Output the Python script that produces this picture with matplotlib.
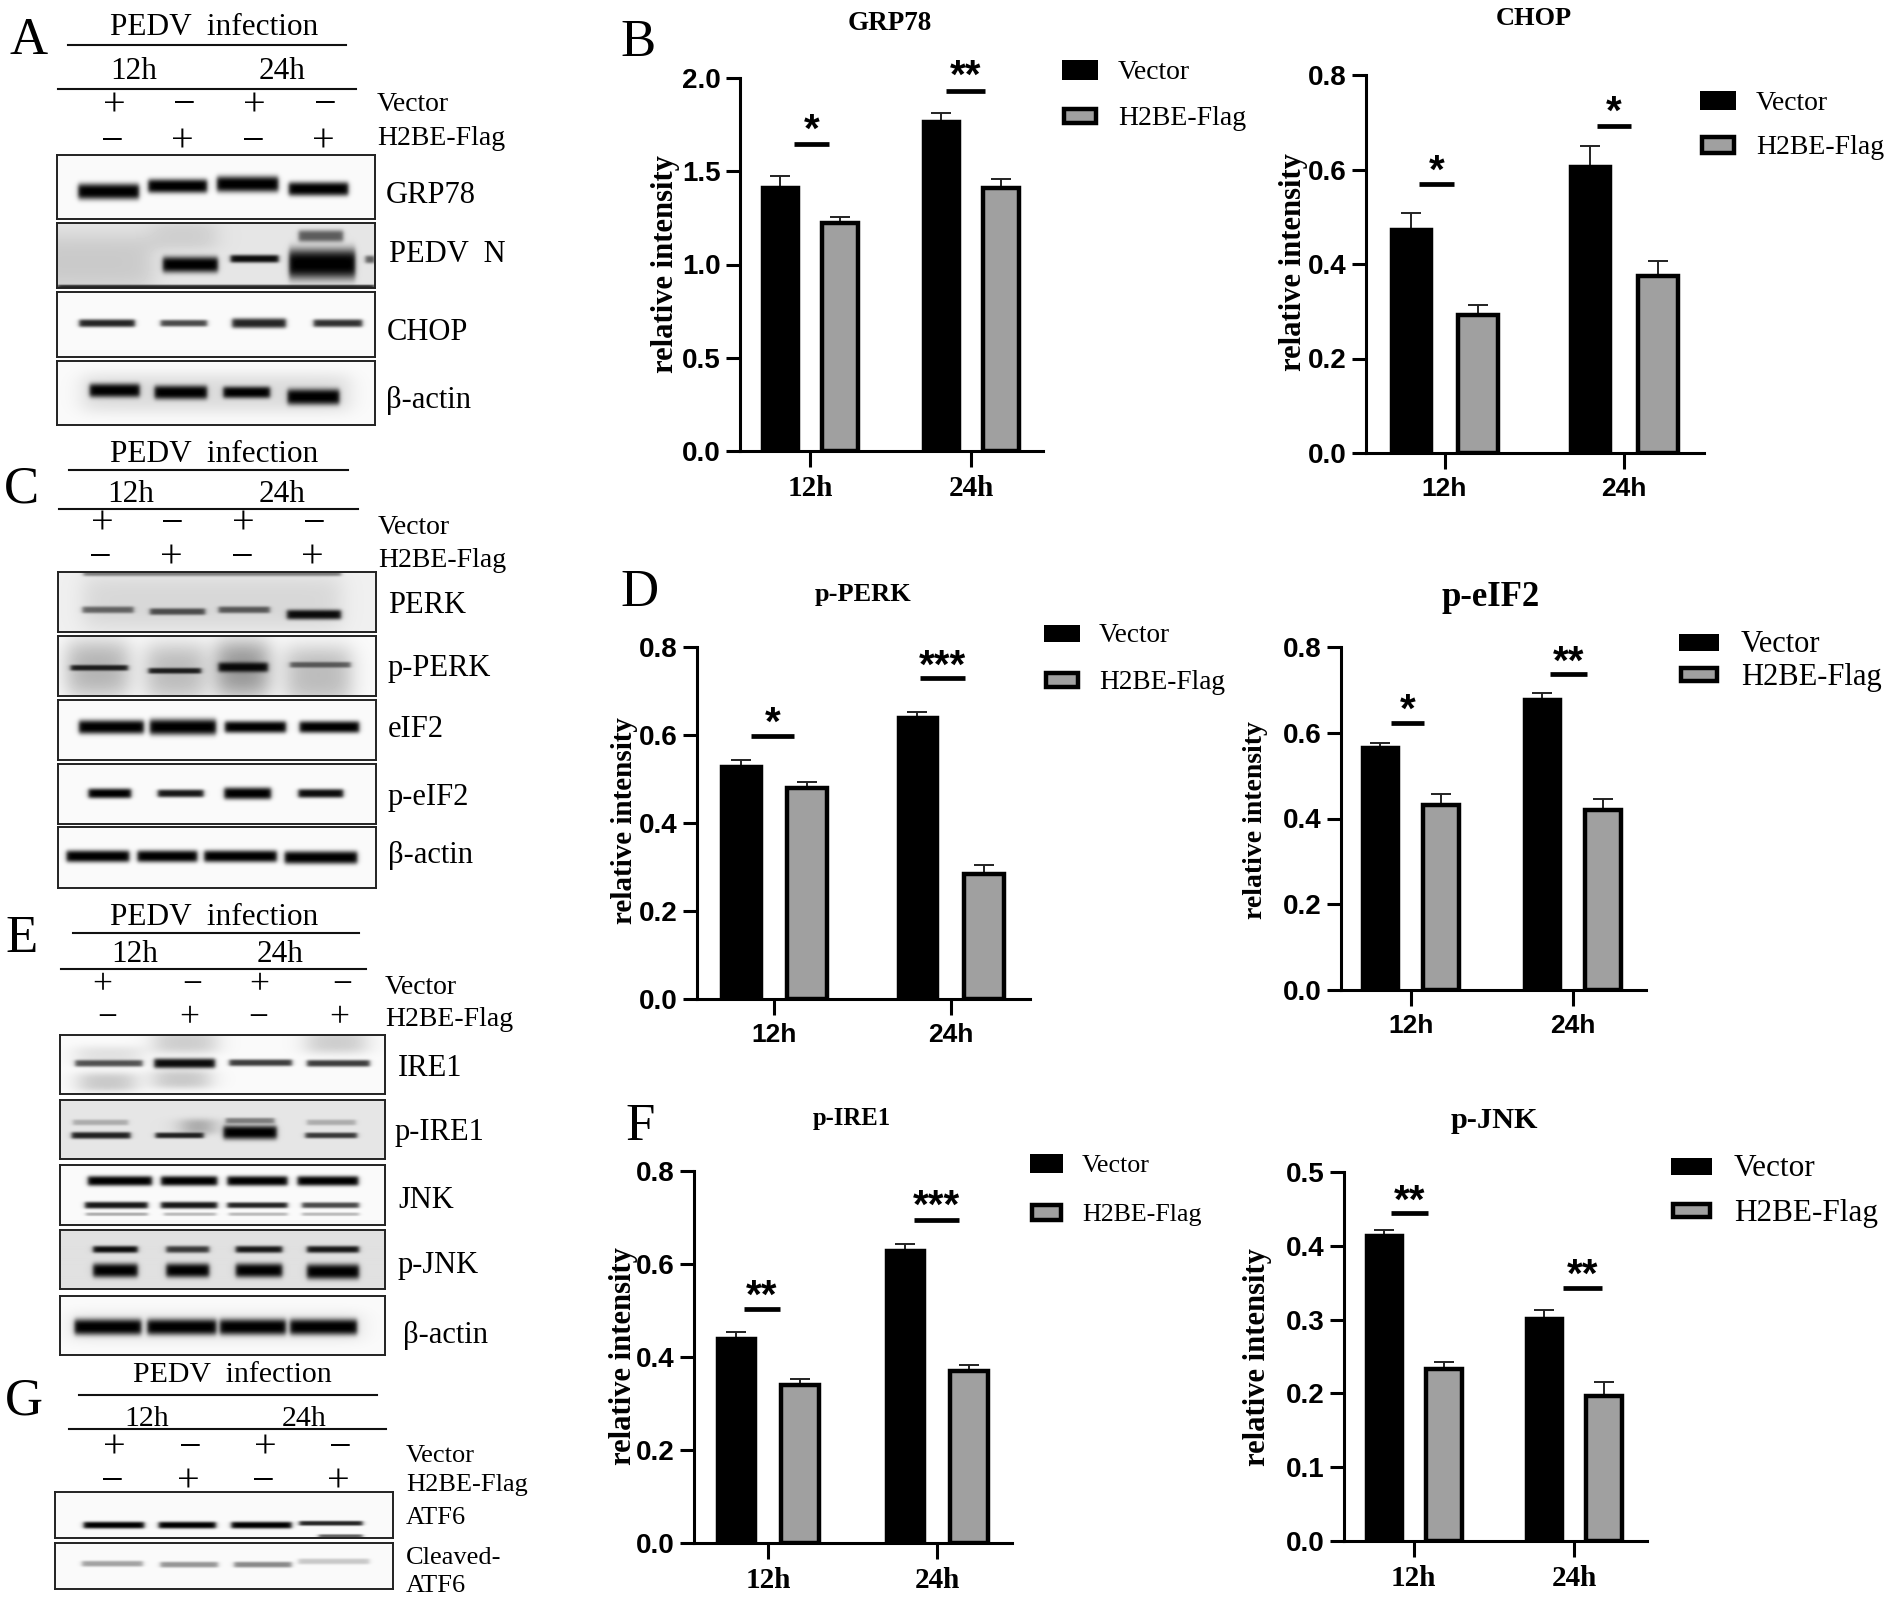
import numpy as np
import matplotlib
matplotlib.use("Agg")
import matplotlib.pyplot as plt
from matplotlib.patches import Rectangle

W, H = 1889, 1598
plt.rcParams['font.family'] = ['Liberation Serif', 'DejaVu Sans']

# bar chart data
hours = ["12h", "24h"]
series_names = ["Vector", "H2BE-Flag"]

grp78_vec = [1.418, 1.768]
grp78_flag = [1.223, 1.408]
grp78_vec_err = [0.057, 0.042]
grp78_flag_err = [0.032, 0.052]
grp78_sig = [1.646, 1.93]
grp78_stars = ["*", "**"]

chop_vec = [0.475, 0.608]
chop_flag = [0.293, 0.375]
chop_vec_err = [0.033, 0.042]
chop_flag_err = [0.02, 0.032]
chop_sig = [0.569, 0.693]
chop_stars = ["*", "*"]

pperk_vec = [0.53, 0.64]
pperk_flag = [0.48, 0.285]
pperk_vec_err = [0.013, 0.013]
pperk_flag_err = [0.013, 0.019]
pperk_sig = [0.598, 0.729]
pperk_stars = ["*", "***"]

peif2_vec = [0.567, 0.678]
peif2_flag = [0.431, 0.42]
peif2_vec_err = [0.01, 0.015]
peif2_flag_err = [0.025, 0.025]
peif2_sig = [0.622, 0.736]
peif2_stars = ["*", "**"]

pire1_vec = [0.44, 0.63]
pire1_flag = [0.34, 0.37]
pire1_vec_err = [0.013, 0.014]
pire1_flag_err = [0.013, 0.013]
pire1_sig = [0.503, 0.695]
pire1_stars = ["**", "***"]

pjnk_vec = [0.415, 0.302]
pjnk_flag = [0.233, 0.197]
pjnk_vec_err = [0.006, 0.011]
pjnk_flag_err = [0.01, 0.018]
pjnk_sig = [0.444, 0.343]
pjnk_stars = ["**", "**"]

fig = plt.figure(figsize=(W / 100, H / 100), dpi=100, facecolor="white")


def T(x, y, s, size, **kw):
    kw.setdefault("ha", "left")
    kw.setdefault("va", "center")
    return fig.text(x / W, 1 - (y + 2.5) / H, s, fontsize=size, **kw)


def hline(x0, x1, y, lw=1.5, color="#111111"):
    fig.add_artist(plt.Line2D([x0 / W, x1 / W], [1 - y / H, 1 - y / H], color=color, lw=lw,
                              transform=fig.transFigure))


def box(x0, y0, x1, y1, face, lw=0.0):
    fig.add_artist(Rectangle((x0 / W, 1 - y1 / H), (x1 - x0) / W, (y1 - y0) / H, facecolor=face,
                             edgecolor="black", lw=lw, transform=fig.transFigure))


def bar_panel(rect, ticks_px, ymax, yticks, vec, flag, vec_err, flag_err, sig, stars, sig_px, star_y,
              title, title_xy, title_size, ylab_xy, ylab_size, legend, tick_serif=False):
    left, y0, right, top = rect
    ax = fig.add_axes([left / W, 1 - y0 / H, (right - left) / W, (y0 - top) / H])
    step = ticks_px[1] - ticks_px[0]
    ax.set_xlim((left - ticks_px[0]) / step, 1 + (right - ticks_px[1]) / step)
    ax.set_ylim(0, ymax)
    x = np.arange(len(hours))
    off = 0.188
    ax.bar(x - off, vec, 0.225, color="black", edgecolor="black", lw=2.5, zorder=3)
    ax.bar(x + off, flag, 0.225, color="#a0a0a0", edgecolor="black", lw=3.2, zorder=3)
    ax.errorbar(x - off, vec, yerr=[[0, 0], vec_err], fmt="none", ecolor="#222222", elinewidth=1.4,
                capsize=7, capthick=1.4, zorder=2)
    ax.errorbar(x + off, flag, yerr=[[0, 0], flag_err], fmt="none", ecolor="#222222", elinewidth=1.4,
                capsize=7, capthick=1.4, zorder=2)
    for i in range(2):
        a = (sig_px[i][0] - ticks_px[0]) / step
        b = (sig_px[i][1] - ticks_px[0]) / step
        ax.plot([a, b], [sig[i], sig[i]], color="black", lw=3.4, solid_capstyle="butt")
        T((sig_px[i][0] + sig_px[i][1]) / 2, star_y[i] + 6, stars[i], 29, ha="center",
          family="Liberation Sans", weight="bold")
    for sp in ["top", "right"]:
        ax.spines[sp].set_visible(False)
    for sp in ["left", "bottom"]:
        ax.spines[sp].set_linewidth(2.2)
    ax.set_yticks(yticks)
    ax.set_yticklabels(["%.1f" % v for v in yticks], family="Liberation Sans", weight="bold", fontsize=20)
    ax.set_xticks(x)
    ax.set_xticklabels(hours, family="Liberation Serif" if tick_serif else "Liberation Sans",
                       weight="bold", fontsize=21 if tick_serif else 19)
    ax.tick_params(axis="y", length=10, width=2.2, pad=4)
    ax.tick_params(axis="x", length=11.5, width=2.2, pad=6)
    T(title_xy[0], title_xy[1], title, title_size, ha="center", weight="bold")
    T(ylab_xy[0] + 3, ylab_xy[1] - 2.5, "relative intensity", ylab_size, ha="center", rotation=90, weight="bold")
    # legend
    bx0, bx1, by, gy, tx, lsize = legend
    box(bx0, by[0], bx1, by[1], "black")
    box(bx0 + 2, gy[0] + 2, bx1 - 2, gy[1] - 2, "#a0a0a0", lw=3.2)
    T(tx, (by[0] + by[1]) / 2, series_names[0], lsize)
    T(tx, (gy[0] + gy[1]) / 2, series_names[1], lsize)


# B
bar_panel((740, 451, 1043, 78), (810, 971), 2.0, [0, 0.5, 1.0, 1.5, 2.0], grp78_vec, grp78_flag,
          grp78_vec_err, grp78_flag_err, grp78_sig, grp78_stars, [(794, 829), (946, 985)], [122, 68],
          "GRP78", (890, 21), 19.5, (663, 264), 22, (1062, 1098, (60, 80), (107, 125), 1118, 20), True)
bar_panel((1366, 453, 1704, 75), (1444.5, 1624), 0.8, [0, 0.2, 0.4, 0.6, 0.8], chop_vec, chop_flag,
          chop_vec_err, chop_flag_err, chop_sig, chop_stars, [(1419, 1454), (1597, 1631)], [163, 104],
          "CHOP", (1534, 16), 19, (1290, 262), 22, (1700, 1736, (91, 110), (135, 155), 1756, 20))
# D
bar_panel((697, 999, 1030, 647), (774, 950.6), 0.8, [0, 0.2, 0.4, 0.6, 0.8], pperk_vec, pperk_flag,
          pperk_vec_err, pperk_flag_err, pperk_sig, pperk_stars, [(751, 794), (920, 965)], [715, 658],
          "p-PERK", (863, 592), 19, (621, 821), 21, (1044, 1080, (625, 642), (671, 689), 1099, 19.6))
bar_panel((1341, 990, 1646, 647), (1410.7, 1572.6), 0.8, [0, 0.2, 0.4, 0.6, 0.8], peif2_vec, peif2_flag,
          peif2_vec_err, peif2_flag_err, peif2_sig, peif2_stars, [(1391, 1424), (1550, 1587)], [702, 654],
          "p-eIF2", (1491, 595), 25, (1253, 820), 20, (1679, 1719, (634, 651), (666, 683), 1741, 22))
# F
bar_panel((694, 1543, 1012, 1171), (768, 937), 0.8, [0, 0.2, 0.4, 0.6, 0.8], pire1_vec, pire1_flag,
          pire1_vec_err, pire1_flag_err, pire1_sig, pire1_stars, [(744, 780), (914, 959)], [1288, 1198],
          "p-IRE1", (852, 1116), 17.7, (621, 1356), 22, (1030, 1063, (1154, 1173), (1203, 1222), 1082, 18.7), True)
bar_panel((1344, 1541, 1647, 1172), (1413.7, 1574), 0.5, [0, 0.1, 0.2, 0.3, 0.4, 0.5], pjnk_vec, pjnk_flag,
          pjnk_vec_err, pjnk_flag_err, pjnk_sig, pjnk_stars, [(1391, 1428), (1563, 1602)], [1193, 1267],
          "p-JNK", (1494, 1118), 21.8, (1255, 1357), 22, (1671, 1712, (1158, 1175), (1202, 1219), 1734, 22.5), True)


def blot(x0, y0, x1, y1, bands, bg=0.02, haze=()):
    # rough redraw of a gel strip: soft dark stripes on a pale field
    w, h = int(x1 - x0), int(y1 - y0)
    xx, yy = np.meshgrid((np.arange(w) + 0.5) / w, np.arange(h) + 0.5)
    img = np.full((h, w), float(bg))
    for a, b, yc, ht, dark, soft in [q + (0.02,) for q in haze] + [q + (0.004,) for q in bands]:
        edge = (1 / (1 + np.exp(-(xx - a) / soft))) * (1 / (1 + np.exp((xx - b) / soft)))
        prof = np.exp(-(np.abs(yy - yc * h) / ht) ** 3)
        img = 1 - (1 - img) * (1 - dark * edge * prof)
    ax = fig.add_axes([x0 / W, 1 - y1 / H, (x1 - x0) / W, (y1 - y0) / H])
    ax.imshow(img, cmap="gray_r", vmin=0, vmax=1, aspect="auto", interpolation="bilinear")
    ax.set_xticks([])
    ax.set_yticks([])
    for sp in ax.spines.values():
        sp.set_linewidth(1.4)
        sp.set_color("#222222")


def header(cx, ty, line1, h12, h24, hy, line2, l1y, l2y, xs1, xs2, r1, r2, lx, vy, fy, size, lsize, mark=29):
    T(cx, ty, "PEDV  infection", size, ha="center")
    hline(line1[0], line1[1], l1y)
    T(h12, hy, hours[0], size, ha="center")
    T(h24, hy, hours[1], size, ha="center")
    hline(line2[0], line2[1], l2y)
    for i, s in enumerate(["+", "\u2212", "+", "\u2212"]):
        T(xs1[i], r1, s, mark, ha="center")
    for i, s in enumerate(["\u2212", "+", "\u2212", "+"]):
        T(xs2[i], r2, s, mark, ha="center")
    T(lx, vy, series_names[0], lsize)
    T(lx, fy, series_names[1], lsize)


# panel letters
for s, x, y in [("A", 10, 38), ("C", 4, 487), ("E", 5, 937), ("G", 5, 1399), ("B", 620, 40), ("D", 620, 590), ("F", 625, 1124)]:
    T(x, y, s, 38)

# A
header(214, 25, (68, 346), 134, 282, 69, (58, 356), 45, 89, (114, 184, 254, 325), (112, 182, 253, 323),
       103, 140, 377, 102, 136, 22.5, 20)
blot(57, 155, 375, 219, [(.067, .258, .57, 8, 1), (.287, .472, .485, 7, 1), (.503, .696, .455, 8, 1), (.729, .916, .53, 7, 1)])
blot(57, 223, 375, 288, [(.333, .506, .64, 8, 1), (.546, .697, .55, 4, .95), (.73, .938, .63, 15, 1),
                         (.76, .90, .2, 6, .6), (.97, 1.0, .56, 4, .6), (0, 1, .98, 2, .8)], bg=.1,
     haze=[(-.1, .3, .6, 30, .12), (.3, .5, .2, 15, .1)])
blot(57, 292, 375, 357, [(.07, .245, .48, 4, .85), (.326, .472, .48, 3.5, .7), (.551, .72, .48, 5, .85), (.807, .96, .48, 4, .8)])
blot(57, 361, 375, 425, [(.103, .26, .46, 7, 1), (.307, .472, .49, 7, 1), (.523, .67, .49, 6, 1), (.725, .888, .56, 8, 1)],
     haze=[(.08, .92, .5, 20, .12)])
for s, x, y in [("GRP78", 386, 193), ("PEDV  N", 389, 252), ("CHOP", 387, 330), ("\u03b2-actin", 386, 398)]:
    T(x, y, s, 22)

# C
header(214, 452, (69, 348), 131, 282, 492, (59, 358), 470, 509, (102, 172, 243, 314), (100, 171, 242, 312),
       522, 556, 378, 525, 558, 22.5, 20)
blot(58, 572, 376, 632, [(.077, .238, .63, 3.5, .55), (.289, .463, .66, 3.5, .65), (.505, .666, .63, 3.5, .6),
                         (.72, .89, .71, 5, .95), (.08, .89, .02, 3, .45)], bg=.06, haze=[(.08, .89, .5, 30, .1)])
blot(58, 636, 376, 696, [(.04, .22, .53, 3, .85), (.285, .45, .58, 3, .85), (.505, .66, .52, 5, .95), (.73, .92, .48, 3, .55)],
     haze=[(.03, .22, .55, 30, .28), (.28, .46, .6, 30, .25), (.5, .66, .55, 30, .4), (.72, .92, .65, 30, .25)])
blot(58, 700, 376, 760, [(.066, .27, .45, 7, 1), (.289, .497, .45, 8, 1), (.525, .717, .45, 6, 1), (.76, .947, .45, 6, 1)])
blot(58, 764, 376, 824, [(.096, .23, .49, 5, 1), (.314, .458, .49, 4, .9), (.523, .67, .49, 6, 1), (.756, .897, .49, 4.5, .95)])
blot(58, 827, 376, 888, [(.027, .224, .48, 6, 1), (.25, .438, .48, 6, 1), (.46, .688, .48, 6, 1), (.713, .941, .5, 6.5, 1)])
for s, y in [("PERK", 603), ("p-PERK", 666), ("eIF2", 727), ("p-eIF2", 795), ("\u03b2-actin", 853)]:
    T(388, y, s, 22)

# E
header(214, 915, (73, 359), 135, 280, 952, (61, 366), 933, 969, (102, 192, 259, 342), (107, 189, 258, 339),
       983, 1016, 385, 985, 1017, 22.5, 20, mark=25.5)
blot(60, 1035, 385, 1094, [(.047, .254, .48, 3.5, .65), (.29, .477, .48, 5, .95), (.521, .714, .47, 3.5, .75), (.76, .953, .48, 3.5, .75)],
     haze=[(.06, .23, .8, 10, .2), (.29, .46, .75, 10, .2), (.29, .48, .12, 12, .18), (.76, .94, .12, 12, .18), (.05, .25, .35, 10, .1)])
blot(60, 1100, 385, 1159, [(.036, .217, .6, 3.5, .85), (.294, .442, .6, 3, .85), (.503, .667, .55, 7, 1), (.755, .914, .6, 3, .75),
                           (.04, .21, .38, 3, .25), (.51, .66, .35, 3, .45), (.76, .91, .38, 3, .25)], bg=.1,
     haze=[(.38, .47, .45, 8, .3)])
blot(60, 1165, 385, 1225, [(.086, .283, .265, 5, 1), (.311, .484, .265, 5, 1), (.515, .70, .265, 5, 1), (.731, .918, .265, 5, 1),
                           (.077, .27, .67, 3.5, .9), (.311, .484, .67, 3.5, .9), (.515, .70, .67, 3, .85), (.745, .92, .67, 3, .7),
                           (.08, .27, .82, 1.8, .3), (.32, .48, .82, 1.8, .25), (.52, .70, .82, 1.8, .25), (.745, .92, .82, 1.8, .25)])
blot(60, 1230, 385, 1289, [(.102, .239, .34, 3.5, .95), (.327, .459, .34, 3.5, .75), (.541, .684, .34, 3.5, .9), (.76, .92, .34, 3.5, .9),
                           (.102, .239, .69, 7, 1), (.327, .459, .69, 7, 1), (.541, .684, .69, 7, 1), (.76, .92, .71, 7.5, 1)], bg=.12)
blot(60, 1296, 385, 1355, [(.045, .25, .525, 8, 1), (.269, .481, .525, 8, 1), (.492, .695, .525, 8, 1), (.708, .914, .525, 8, 1)],
     haze=[(.03, .93, .52, 16, .08)])
for s, x, y in [("IRE1", 398, 1066), ("p-IRE1", 395, 1130), ("JNK", 398, 1198), ("p-JNK", 398, 1263), ("\u03b2-actin", 403, 1333)]:
    T(x, y, s, 22)

# G
header(232, 1373, (79, 377), 147, 304, 1416, (69, 386), 1395, 1429, (114, 190, 265, 340), (112, 188, 263, 338),
       1446, 1480, 406, 1453, 1482, 21.5, 19)
blot(55, 1492, 393, 1538, [(.085, .264, .72, 3.5, 1), (.307, .476, .72, 3.5, 1), (.522, .70, .72, 3.5, 1), (.723, .91, .68, 2.5, .85),
                           (.78, .91, .96, 2, .6)])
blot(55, 1543, 393, 1589, [(.08, .26, .45, 3, .35), (.312, .482, .47, 3, .4), (.53, .70, .47, 3, .45), (.72, .93, .4, 3, .2)])
T(406, 1516, "ATF6", 19)
T(406, 1555, "Cleaved-", 19)
T(406, 1584, "ATF6", 19)

fig.savefig("out.png", dpi=100)
